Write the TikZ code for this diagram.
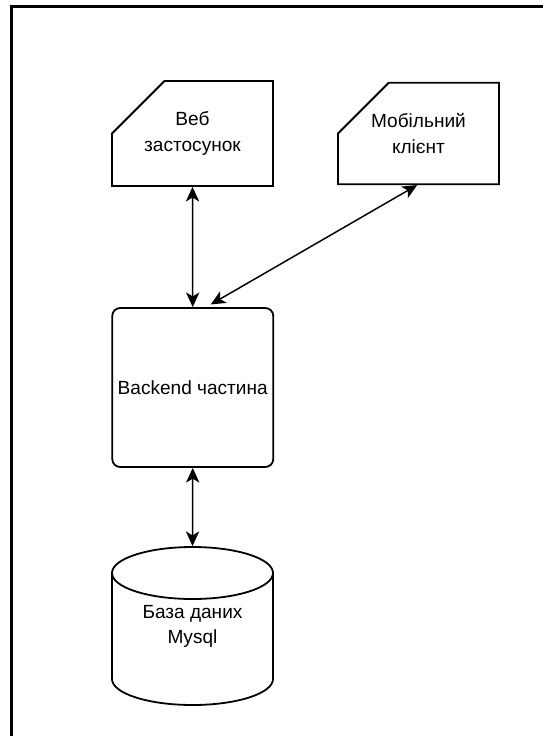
\documentclass[tikz,border=0pt]{standalone}
\usepackage{fontspec}
\setmainfont{Liberation Sans}
\usetikzlibrary{shapes.misc,arrows.meta,calc}
\begin{document}
\begin{tikzpicture}[x=0.75pt,y=-0.75pt,
  box/.style={draw,line width=1.35pt,minimum width=120.75pt,minimum height=71.25pt,
    align=center,inner sep=0pt,font=\fontsize{14.3pt}{18.75pt}\selectfont},
  cut/.style={box,chamfered rectangle,chamfered rectangle corners=north west,
    chamfered rectangle xsep=24pt,chamfered rectangle ysep=23pt},
  conn/.style={line width=1.1pt,{Stealth[length=11pt,width=10pt,inset=3pt]}-{Stealth[length=11pt,width=10pt,inset=3pt]}}]
\useasboundingbox (0,0) rectangle (543,736);
\clip (0,0) rectangle (543,736);
\draw[line width=2.25pt] (11.5,800) -- (11.5,6) -- (600,6);
\node[cut] (web) at (192.5,133.5) {Веб\\[0.5pt]застосунок};
\node[cut] (mob) at (418.5,133.5) {Мобільний\\[0.5pt]клієнт};
\node[box,rounded corners=6pt,minimum height=119.25pt] (back) at (192.75,387.5) {Backend частина};
\node[box,draw=none,minimum height=118.5pt] (db) at (192.5,626) {База даних\\Mysql};
\draw[line width=1.35pt] (112,573) -- (112,679) arc[start angle=180,end angle=360,x radius=60.375pt,y radius=19.5pt] -- (273,573);
\draw[line width=1.35pt] (192.5,573) ellipse[x radius=60.375pt,y radius=19.5pt];
\draw[conn] (web.south) -- (back.north);
\draw[conn] ([xshift=-1pt]mob.south) -- ([xshift=13.5pt,yshift=2pt]back.north);
\draw[conn] (back.south) -- (db.north);
\end{tikzpicture}
\end{document}
